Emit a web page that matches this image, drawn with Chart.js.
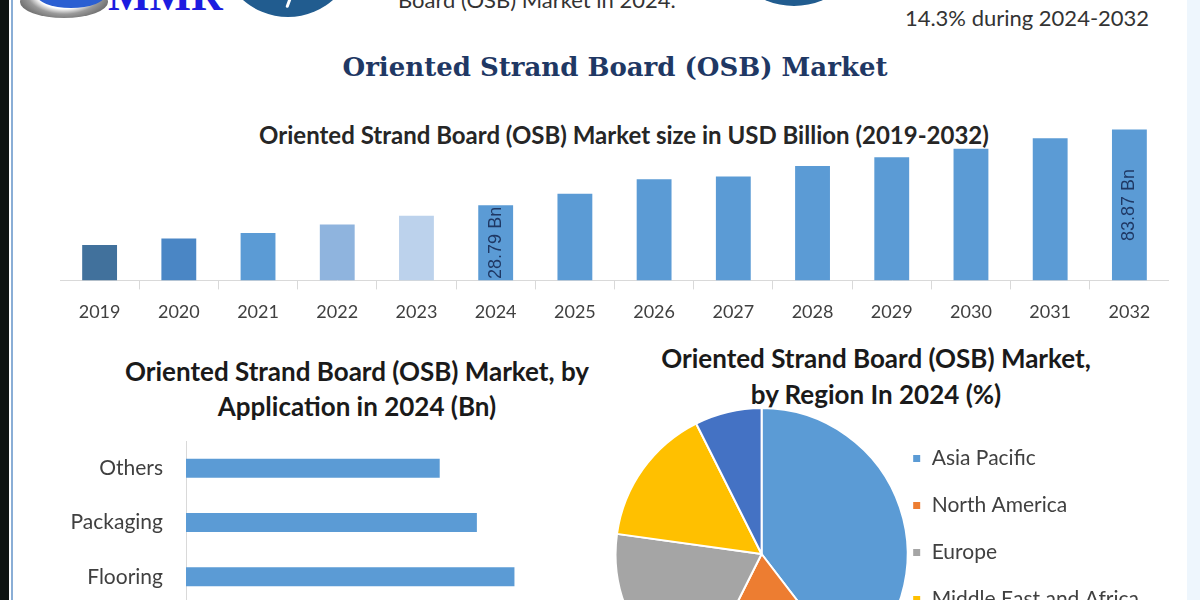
<!DOCTYPE html>
<html><head><meta charset="utf-8">
<script src="https://cdn.jsdelivr.net/npm/chart.js@4.4.1/dist/chart.umd.min.js"></script>
<style>
html,body{margin:0;padding:0;width:1200px;height:600px;overflow:hidden;background:#fff;}
body{position:relative;font-family:Lato,"Open Sans",sans-serif;}
.abs{position:absolute;}
.t{position:absolute;white-space:nowrap;transform:translateX(-50%);text-align:center;}
</style></head><body>
<div class="abs" style="left:0;top:0;width:9px;height:600px;background:#0e1311"></div>
<div class="abs" style="left:11px;top:0;width:2px;height:600px;background:#8aaed6"></div>
<div class="abs" style="left:1187px;top:0;width:13px;height:600px;background:#eef6fd"></div>
<!-- logo fragments -->
<div class="abs" style="left:20px;top:-14px;width:88px;height:32px;border-radius:50%;background:radial-gradient(ellipse at 50% 20%,#ffffff 0 45%,#9a9a9a 60%,#3a3a3a 100%)"></div>
<div class="abs" style="left:36px;top:-20px;width:70px;height:28px;border-radius:50%;background:#2b5fd2"></div>
<div class="abs" style="left:108px;top:-26px;font:bold 44px 'Liberation Serif',serif;color:#1c1ce0;line-height:44px">MMR</div>
<div class="abs" style="left:220px;top:-119px;width:136px;height:136px;border-radius:50%;background:#215c8f"></div>
<div class="abs" style="left:287px;top:-2px;width:3px;height:10px;background:#fff;transform:rotate(20deg);border-radius:2px"></div>
<div class="abs" style="left:721px;top:-140px;width:146px;height:146px;border-radius:50%;background:#215c8f"></div>
<div class="abs" style="left:398px;top:-11px;font-size:22px;line-height:22px;color:#333">Board (OSB) Market in 2024.</div>
<div class="t" style="left:1027px;top:7px;font-size:22px;line-height:22px;color:#333">14.3% during 2024-2032</div>

<div class="t" style="left:615px;top:52px;font:bold 26px 'DejaVu Serif',serif;line-height:30px;color:#1f3864">Oriented Strand Board (OSB) Market</div>
<div class="t" style="left:624px;top:121px;font-weight:bold;font-size:24px;line-height:28px;color:#262626">Oriented Strand Board (OSB) Market size in USD Billion (2019-2032)</div>
<div class="t" style="left:357px;top:354px;font-weight:bold;font-size:26px;line-height:35px;color:#1a1a1a">Oriented Strand Board (OSB) Market, by<br>Application in 2024 (Bn)</div>
<div class="t" style="left:876px;top:340px;font-weight:bold;font-size:26px;line-height:36px;color:#1a1a1a">Oriented Strand Board (OSB) Market,<br>by Region In 2024 (%)</div>

<div class="abs" style="left:60px;top:110px;width:1109px;height:225px"><canvas id="bar"></canvas></div>
<div class="abs" style="left:40px;top:441px;width:550px;height:163px"><canvas id="hbar"></canvas></div>
<div class="abs" style="left:614px;top:407px;width:535px;height:294px"><canvas id="pie"></canvas></div>

<script>
// ---- data ----
const years = ['2019','2020','2021','2022','2023','2024','2025','2026','2027','2028','2029','2030','2031','2032'];
const marketSize = [16.46, 18.03, 19.50, 21.98, 24.87, 28.79, 33.95, 41.56, 43.31, 50.19, 56.81, 63.93, 74.10, 83.87];
const labelledYears = ['2024','2032'];

const applications = ['Others','Packaging','Flooring'];
const applicationValues = [6.28, 7.20, 8.13];

const regions = ['Asia Pacific','North America','Europe','Middle East and Africa','South America'];
const regionShares = [39.6, 17.8, 19.8, 15.4, 7.4];

// ---- styles ----
const barColors = ['#41719c','#4a86c5','#5b9bd5','#8fb4de','#bcd2ec','#5b9bd5','#5b9bd5','#5b9bd5','#5b9bd5','#5b9bd5','#5b9bd5','#5b9bd5','#5b9bd5','#5b9bd5'];
const regionColors = ['#5b9bd5','#ed7d31','#a5a5a5','#ffc000','#4472c4'];

Chart.defaults.font.family = 'Lato, "Open Sans", sans-serif';
Chart.defaults.animation = false;

const barValueLabels = {
  id: 'barValueLabels',
  afterDatasetsDraw(chart) {
    const ctx = chart.ctx;
    const meta = chart.getDatasetMeta(0);
    meta.data.forEach((bar, i) => {
      if (!labelledYears.includes(years[i])) return;
      const text = marketSize[i].toFixed(2) + ' Bn';
      ctx.save();
      ctx.translate(bar.x, (bar.y + bar.base) / 2);
      ctx.rotate(-Math.PI / 2);
      ctx.font = '18px "Liberation Sans", Arial, sans-serif';
      ctx.fillStyle = '#1f3864';
      ctx.textAlign = 'center';
      ctx.textBaseline = 'middle';
      ctx.fillText(text, 0, 0);
      ctx.restore();
    });
  }
};

new Chart(document.getElementById('bar'), {
  type: 'bar',
  data: { labels: years, datasets: [{ data: marketSize, backgroundColor: barColors, barPercentage: 0.44, categoryPercentage: 1 }] },
  options: {
    responsive: true, maintainAspectRatio: false,
    layout: { padding: { top: 7, left: 0, right: 0, bottom: 0 } },
    plugins: { legend: { display: false }, tooltip: { enabled: false } },
    scales: {
      x: {
        grid: { display: true, drawOnChartArea: false, drawTicks: true, tickLength: 9, color: '#d9d9d9' },
        border: { display: true, color: '#d9d9d9' },
        ticks: { color: '#404040', font: { size: 18 }, padding: 12, maxRotation: 0 }
      },
      y: { type: 'logarithmic', min: 10, max: 100, display: false }
    }
  },
  plugins: [barValueLabels]
});

new Chart(document.getElementById('hbar'), {
  type: 'bar',
  data: { labels: applications, datasets: [{ data: applicationValues, backgroundColor: '#5b9bd5', barPercentage: 0.35, categoryPercentage: 1 }] },
  options: {
    indexAxis: 'y',
    responsive: true, maintainAspectRatio: false,
    layout: { padding: 0 },
    plugins: { legend: { display: false }, tooltip: { enabled: false } },
    scales: {
      x: { display: false, min: 0, max: 10 },
      y: {
        grid: { display: true, drawOnChartArea: false, drawTicks: true, tickLength: 23, color: 'rgba(0,0,0,0)' },
        border: { display: true, color: '#d9d9d9', width: 1 },
        ticks: { color: '#404040', font: { size: 21 }, padding: 0 },
        afterFit(s) { s.width = 146; s.paddingTop = 0; s.paddingBottom = 0; }
      }
    }
  }
});

new Chart(document.getElementById('pie'), {
  type: 'pie',
  data: { labels: regions, datasets: [{ data: regionShares, backgroundColor: regionColors, borderColor: '#ffffff', borderWidth: 2 }] },
  options: {
    responsive: true, maintainAspectRatio: false,
    layout: { padding: 0 },
    plugins: {
      tooltip: { enabled: false },
      legend: {
        position: 'right',
        title: { display: true, text: '', font: { size: 10, lineHeight: 2 }, padding: 0 },
        labels: {
          boxWidth: 9, boxHeight: 9, padding: 3, color: '#404040',
          font: { size: 21, lineHeight: '44px' },
          generateLabels(chart) {
            return Chart.overrides.pie.plugins.legend.labels.generateLabels(chart).map(it => Object.assign(it, { text: [it.text] }));
          }
        }
      }
    }
  }
});
</script>
</body></html>
